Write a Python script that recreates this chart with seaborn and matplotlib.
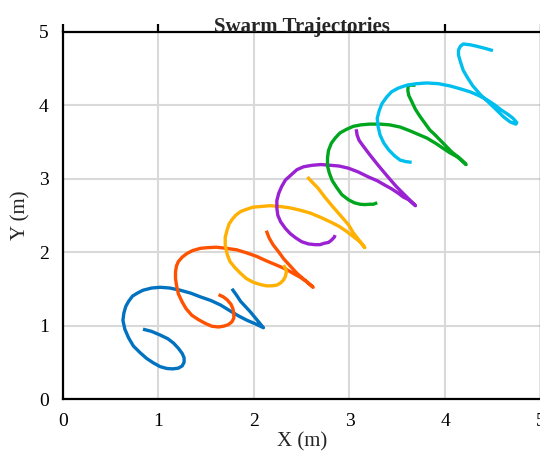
import matplotlib
matplotlib.use("Agg")
import matplotlib.pyplot as plt
import seaborn as sns
import pandas as pd

# ---- data ----
agents = ["Agent 1", "Agent 2", "Agent 3", "Agent 4", "Agent 5", "Agent 6"]
colors = ["#0072C0", "#FF5200", "#FFB000", "#9A22D2", "#00A61E", "#00BFEF"]

blue_x = [0.84, 0.93, 1.02, 1.10, 1.16, 1.21, 1.25, 1.27, 1.27, 1.25, 1.21, 1.15,
          1.09, 1.02, 0.95, 0.88, 0.81, 0.74, 0.69, 0.65, 0.63, 0.64, 0.66, 0.69,
          0.73, 0.78, 0.84, 0.93, 1.02, 1.12, 1.23, 1.34, 1.44, 1.55, 1.65, 1.75,
          1.84, 1.93, 2.02, 2.10, 2.03, 1.96, 1.91, 1.86, 1.82, 1.77]
blue_y = [0.95, 0.92, 0.87, 0.82, 0.76, 0.69, 0.62, 0.56, 0.50, 0.45, 0.42, 0.41,
          0.415, 0.44, 0.49, 0.55, 0.63, 0.72, 0.83, 0.95, 1.07, 1.17, 1.26, 1.33,
          1.40, 1.44, 1.48, 1.51, 1.52, 1.51, 1.48, 1.44, 1.39, 1.34, 1.28, 1.20,
          1.13, 1.07, 1.02, 0.97, 1.08, 1.19, 1.26, 1.33, 1.41, 1.50]

orange_x = [1.63, 1.68, 1.72, 1.76, 1.78, 1.79, 1.79, 1.77, 1.73, 1.68, 1.63, 1.56,
            1.49, 1.42, 1.35, 1.29, 1.25, 1.21, 1.19, 1.18, 1.18, 1.19, 1.21, 1.25,
            1.30, 1.36, 1.44, 1.52, 1.61, 1.71, 1.82, 1.92, 2.03, 2.13, 2.24, 2.33,
            2.41, 2.48, 2.55, 2.62, 2.53, 2.45, 2.38, 2.31, 2.26, 2.20, 2.16, 2.13]
orange_y = [1.42, 1.39, 1.35, 1.29, 1.23, 1.16, 1.10, 1.05, 1.01, 0.99, 0.98, 0.99,
            1.03, 1.08, 1.14, 1.23, 1.32, 1.43, 1.55, 1.64, 1.73, 1.81, 1.87, 1.93,
            1.98, 2.02, 2.05, 2.06, 2.065, 2.05, 2.03, 1.99, 1.94, 1.88, 1.82, 1.77,
            1.71, 1.66, 1.60, 1.52, 1.62, 1.71, 1.81, 1.91, 2.00, 2.10, 2.19, 2.29]

yellow_x = [2.31, 2.33, 2.34, 2.33, 2.31, 2.28, 2.24, 2.19, 2.13, 2.06, 1.99, 1.92,
            1.86, 1.80, 1.75, 1.72, 1.70, 1.70, 1.72, 1.74, 1.77, 1.81, 1.86, 1.92,
            1.99, 2.08, 2.17, 2.27, 2.38, 2.48, 2.59, 2.70, 2.80, 2.89, 2.97, 3.04,
            3.11, 3.16, 3.10, 3.04, 2.99, 2.93, 2.87, 2.81, 2.74, 2.67, 2.61, 2.56]
yellow_y = [1.82, 1.78, 1.73, 1.67, 1.62, 1.58, 1.55, 1.54, 1.54, 1.56, 1.59, 1.64,
            1.71, 1.79, 1.87, 1.97, 2.10, 2.20, 2.30, 2.38, 2.44, 2.50, 2.55, 2.58,
            2.61, 2.62, 2.63, 2.62, 2.60, 2.57, 2.53, 2.47, 2.41, 2.35, 2.28, 2.21,
            2.14, 2.06, 2.16, 2.26, 2.37, 2.46, 2.55, 2.64, 2.75, 2.87, 2.95, 3.02]

purple_x = [2.85, 2.84, 2.81, 2.78, 2.74, 2.69, 2.64, 2.57, 2.50, 2.44, 2.38, 2.33,
            2.28, 2.25, 2.24, 2.24, 2.26, 2.29, 2.33, 2.39, 2.45, 2.52, 2.61, 2.70,
            2.80, 2.89, 2.99, 3.09, 3.20, 3.29, 3.37, 3.44, 3.51, 3.56, 3.62, 3.69,
            3.59, 3.49, 3.39, 3.30, 3.22, 3.15, 3.10, 3.08, 3.07]
purple_y = [2.23, 2.20, 2.16, 2.13, 2.12, 2.10, 2.10, 2.11, 2.14, 2.19, 2.25, 2.32,
            2.41, 2.50, 2.60, 2.70, 2.80, 2.89, 2.98, 3.05, 3.12, 3.16, 3.18, 3.19,
            3.18, 3.17, 3.14, 3.09, 3.02, 2.97, 2.91, 2.86, 2.80, 2.75, 2.71, 2.63,
            2.76, 2.89, 3.04, 3.18, 3.31, 3.43, 3.52, 3.59, 3.67]

green_x = [3.29, 3.25, 3.21, 3.16, 3.11, 3.05, 2.99, 2.92, 2.87, 2.82, 2.79, 2.77,
           2.77, 2.78, 2.81, 2.85, 2.90, 2.97, 3.04, 3.12, 3.21, 3.32, 3.42, 3.53,
           3.63, 3.72, 3.81, 3.90, 3.98, 4.05, 4.12, 4.17, 4.22, 4.15, 4.07, 4.01,
           3.95, 3.89, 3.84, 3.79, 3.74, 3.69, 3.65, 3.62, 3.61, 3.615, 3.69]
green_y = [2.67, 2.65, 2.65, 2.645, 2.65, 2.67, 2.71, 2.78, 2.87, 2.97, 3.07, 3.17,
           3.28, 3.38, 3.48, 3.55, 3.62, 3.67, 3.71, 3.73, 3.74, 3.74, 3.73, 3.70,
           3.65, 3.60, 3.55, 3.48, 3.41, 3.35, 3.30, 3.25, 3.19, 3.28, 3.36, 3.44,
           3.52, 3.60, 3.66, 3.75, 3.84, 3.94, 4.05, 4.13, 4.20, 4.27, 4.27]

cyan_x = [3.65, 3.59, 3.53, 3.47, 3.41, 3.36, 3.32, 3.30, 3.29, 3.31, 3.34, 3.39,
          3.44, 3.51, 3.60, 3.70, 3.81, 3.93, 4.05, 4.16, 4.26, 4.35, 4.44, 4.52,
          4.59, 4.66, 4.71, 4.75, 4.74, 4.68, 4.61, 4.54, 4.46, 4.37, 4.29, 4.24,
          4.19, 4.16, 4.14, 4.14, 4.16, 4.19, 4.26, 4.33, 4.42, 4.50]
cyan_y = [3.22, 3.23, 3.25, 3.31, 3.39, 3.48, 3.59, 3.70, 3.82, 3.92, 4.02, 4.11,
          4.18, 4.23, 4.27, 4.29, 4.30, 4.29, 4.26, 4.22, 4.18, 4.13, 4.07, 4.00,
          3.93, 3.87, 3.82, 3.76, 3.74, 3.77, 3.84, 3.93, 4.03, 4.14, 4.26, 4.36,
          4.47, 4.59, 4.68, 4.75, 4.80, 4.83, 4.82, 4.80, 4.77, 4.74]

tick_values = [0, 1, 2, 3, 4, 5]

xs = [blue_x, orange_x, yellow_x, purple_x, green_x, cyan_x]
ys = [blue_y, orange_y, yellow_y, purple_y, green_y, cyan_y]

rows = []
for name, xv, yv in zip(agents, xs, ys):
    for i, (a, b) in enumerate(zip(xv, yv)):
        rows.append({"agent": name, "step": i, "x": a, "y": b})
df = pd.DataFrame(rows)

# ---- style ----
sns.set_style("white")
plt.rcParams["font.family"] = ["Liberation Serif", "DejaVu Serif"]
plt.rcParams["axes.linewidth"] = 1.6

fig = plt.figure(figsize=(5.4, 4.58), dpi=100)
ax = fig.add_axes([0.1161, 0.1288, 0.8852, 0.8024])

ax.grid(True, color="#d9d9d9", linewidth=1.5)
ax.set_axisbelow(True)

sns.lineplot(data=df, x="x", y="y", hue="agent", sort=False, estimator=None,
             palette=colors, legend=False, linewidth=2.4, ax=ax,
             solid_joinstyle="round", solid_capstyle="butt")

ax.set_xlim(0, 5)
ax.set_ylim(0, 5)
ax.set_xticks(tick_values)
ax.set_yticks(tick_values)
ax.tick_params(direction="out", length=6, width=1.6, top=True, right=True,
               labelsize=14, colors="black", pad=4)
for s in ax.spines.values():
    s.set_visible(True)
    s.set_color("black")
    s.set_linewidth(1.6)

ax.set_xlabel("X (m)", fontsize=15, labelpad=2)
ax.set_ylabel("Y (m)", fontsize=15, labelpad=6)
ax.set_title("Swarm Trajectories", fontsize=15, fontweight="bold", pad=0)

fig.savefig("out.png", dpi=100)
